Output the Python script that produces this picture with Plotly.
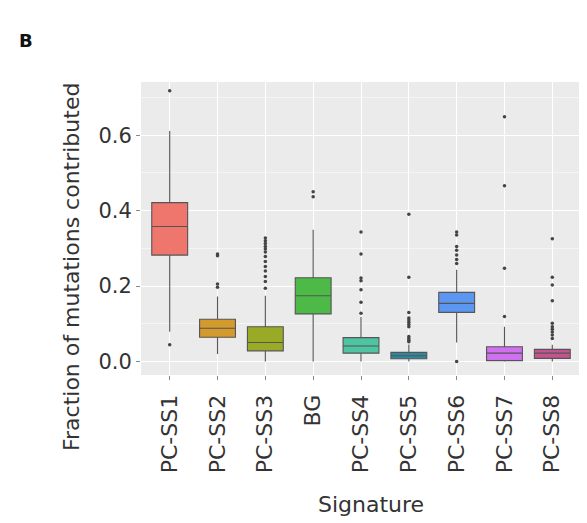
import plotly.graph_objects as go

categories = ["PC-SS1", "PC-SS2", "PC-SS3", "BG", "PC-SS4", "PC-SS5", "PC-SS6", "PC-SS7", "PC-SS8"]
q1 = [0.282, 0.064, 0.028, 0.126, 0.022, 0.007, 0.130, 0.002, 0.008]
medians = [0.358, 0.088, 0.050, 0.174, 0.041, 0.015, 0.154, 0.022, 0.022]
q3 = [0.421, 0.112, 0.092, 0.222, 0.063, 0.024, 0.183, 0.039, 0.032]
lower_whisker = [0.079, 0.020, 0.000, 0.000, 0.000, 0.000, 0.050, 0.000, 0.000]
upper_whisker = [0.611, 0.172, 0.174, 0.349, 0.118, 0.045, 0.243, 0.092, 0.044]
outliers = [
    [0.718, 0.044],
    [0.285, 0.280, 0.205, 0.197],
    [0.327, 0.320, 0.313, 0.305, 0.298, 0.290, 0.278, 0.265, 0.252, 0.240, 0.225, 0.212, 0.194],
    [0.450, 0.437],
    [0.343, 0.285, 0.221, 0.214, 0.190, 0.157, 0.128],
    [0.390, 0.223, 0.130, 0.115, 0.110, 0.104, 0.098, 0.092, 0.066, 0.061, 0.056, 0.052],
    [0.343, 0.335, 0.305, 0.295, 0.282, 0.270, 0.260, 0.000],
    [0.649, 0.466, 0.247, 0.119],
    [0.325, 0.223, 0.203, 0.161, 0.101, 0.092, 0.085, 0.078, 0.070, 0.061],
]
fill_colors = ["#EE766D", "#D39A2E", "#98AA26", "#4DBA47", "#4FC4A2", "#2D88A0", "#5B96F0", "#D070F0", "#C45490"]
x_title = "Signature"
y_title = "Fraction of mutations contributed"

fig = go.Figure()
for i, cat in enumerate(categories):
    fig.add_trace(go.Box(
        x=[cat], q1=[q1[i]], median=[medians[i]], q3=[q3[i]],
        lowerfence=[lower_whisker[i]], upperfence=[upper_whisker[i]],
        fillcolor=fill_colors[i], line=dict(color="#555555", width=1.1),
        whiskerwidth=0, width=0.75, boxpoints=False, showlegend=False,
    ))
    fig.add_trace(go.Scatter(
        x=[cat] * len(outliers[i]), y=outliers[i], mode="markers",
        marker=dict(size=3.5, color="#444444"), showlegend=False,
    ))

# page has an 8px body margin, so the figure is sized/offset to compensate
PW, PH, L, T = 440, 293, 133, 74
fig.update_layout(
    width=579, height=515,
    margin=dict(l=L, r=6, t=T, b=148, autoexpand=False),
    paper_bgcolor="white", plot_bgcolor="#EBEBEB",
    boxmode="overlay",
    font=dict(family="DejaVu Sans", color="#333333"),
)
fig.add_annotation(text="<b>B</b>", xref="paper", yref="paper",
                   x=(9 - L) / PW, y=1 + (T - 33) / PH,
                   xanchor="left", yanchor="middle", showarrow=False,
                   font=dict(family="DejaVu Sans", size=18, color="#111111"))
fig.add_annotation(text=y_title, xref="paper", yref="paper", textangle=-90,
                   x=(63 - L) / PW, y=1 - (259 - T) / PH,
                   xanchor="center", yanchor="middle", showarrow=False,
                   font=dict(family="DejaVu Sans", size=22, color="#333333"))
fig.add_annotation(text=x_title, xref="paper", yref="paper",
                   x=(363 - L) / PW, y=-(496 - T - PH) / PH,
                   xanchor="center", yanchor="middle", showarrow=False,
                   font=dict(family="DejaVu Sans", size=22, color="#333333"))

fig.update_xaxes(
    type="category", categoryorder="array", categoryarray=categories,
    range=[-0.6, 8.6], showgrid=True, gridcolor="white", gridwidth=1.2,
    tickangle=-90, tickfont=dict(size=22, color="#333333"),
    ticks="outside", ticklen=4, tickcolor="#888888", ticklabelstandoff=6,
    zeroline=False, showline=False, automargin=False,
)
fig.update_yaxes(
    range=[-0.036, 0.741], tickvals=[0.0, 0.2, 0.4, 0.6], ticktext=["0.0", "0.2", "0.4", "0.6"],
    showgrid=True, gridcolor="white", gridwidth=1.2,
    minor=dict(tickvals=[0.1, 0.3, 0.5, 0.7], showgrid=True, gridcolor="#F5F5F5", gridwidth=0.6),
    tickfont=dict(size=21, color="#333333"),
    ticks="outside", ticklen=4, tickcolor="#888888",
    zeroline=False, showline=False, automargin=False,
)

fig.write_html("out.html")
